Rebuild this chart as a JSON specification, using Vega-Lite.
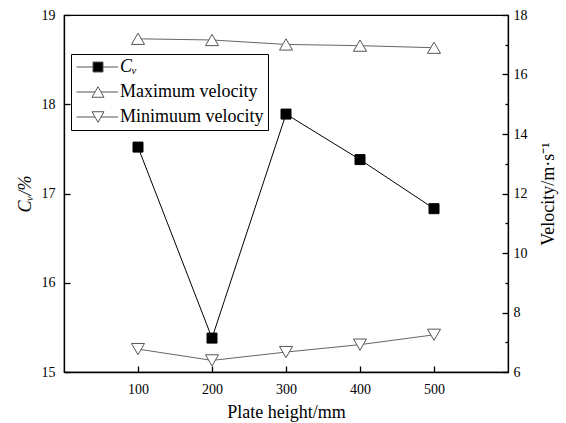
{
  "$schema": "https://vega.github.io/schema/vega-lite/v6.json",
  "width": 444,
  "height": 357,
  "autosize": {"type": "none"},
  "padding": {"left": 64, "top": 15, "right": 58, "bottom": 51},
  "background": "white",
  "config": {
    "view": {"stroke": "black", "strokeWidth": 1.2},
    "font": "Liberation Serif",
    "axis": {
      "labelFont": "Liberation Serif",
      "titleFont": "Liberation Serif",
      "labelFontSize": 14,
      "titleFontSize": 18,
      "titleFontWeight": "normal",
      "labelColor": "black",
      "titleColor": "black",
      "domainColor": "black",
      "domainWidth": 1.3,
      "ticks": true,
      "tickColor": "black",
      "tickWidth": 1.3,
      "grid": false,
      "labelFlush": false,
      "labelOverlap": false
    }
  },
  "data": {
    "values": [
      {"x": 100, "series": "Cv", "value": 17.52},
      {"x": 200, "series": "Cv", "value": 15.38},
      {"x": 300, "series": "Cv", "value": 17.89},
      {"x": 400, "series": "Cv", "value": 17.38},
      {"x": 500, "series": "Cv", "value": 16.83},
      {"x": 100, "series": "Maximum velocity", "value": 17.2},
      {"x": 200, "series": "Maximum velocity", "value": 17.16},
      {"x": 300, "series": "Maximum velocity", "value": 17.01},
      {"x": 400, "series": "Maximum velocity", "value": 16.97},
      {"x": 500, "series": "Maximum velocity", "value": 16.9},
      {"x": 100, "series": "Minimuum velocity", "value": 6.77},
      {"x": 200, "series": "Minimuum velocity", "value": 6.39},
      {"x": 300, "series": "Minimuum velocity", "value": 6.67},
      {"x": 400, "series": "Minimuum velocity", "value": 6.92},
      {"x": 500, "series": "Minimuum velocity", "value": 7.25}
    ]
  },
  "encoding": {
    "x": {
      "field": "x",
      "type": "quantitative",
      "scale": {"domain": [0, 600], "nice": false, "zero": false},
      "axis": {
        "title": "Plate height/mm",
        "values": [100, 200, 300, 400, 500],
        "format": "d",
        "tickSize": -6,
        "labelPadding": 16,
        "titlePadding": 7
      }
    }
  },
  "layer": [
    {
      "transform": [{"filter": "datum.series === 'Cv'"}],
      "encoding": {
        "y": {
          "field": "value",
          "type": "quantitative",
          "scale": {"domain": [15, 19], "nice": false, "zero": false},
          "axis": {
            "orient": "left",
            "title": "Cᵥ/%",
            "titleFontStyle": "italic",
            "values": [15, 15.5, 16, 16.5, 17, 17.5, 18, 18.5, 19],
            "format": "d",
            "labelExpr": "datum.value % 1 === 0 ? datum.label : ''",
            "tickSize": {"expr": "datum.value % 1 === 0 ? -6 : -3"},
            "labelPadding": 15,
            "titlePadding": 7
          }
        }
      },
      "layer": [
        {"mark": {"type": "line", "color": "black", "strokeWidth": 1}, "encoding": {}},
        {
          "mark": {"type": "point", "shape": "square", "size": 100, "stroke": "black", "strokeWidth": 1, "opacity": 1},
          "encoding": {
            "fill": {
              "field": "series",
              "type": "nominal",
              "scale": {"domain": ["Cv", "Maximum velocity", "Minimuum velocity"], "range": ["black", "white", "white"]},
              "legend": {
                "orient": "none",
                "legendX": 7,
                "legendY": 39,
                "title": null,
                "strokeColor": "black",
                "fillColor": "white",
                "padding": 4,
                "labelFont": "Liberation Serif",
                "labelFontSize": 18,
                "labelColor": "black",
                "symbolSize": 100,
                "rowPadding": 7,
                "labelOffset": 27,
                "symbolStrokeWidth": 1,
                "symbolOpacity": 1,
                "labelExpr": "datum.value === 'Cv' ? 'Cᵥ' : datum.label",
                "labelFontStyle": {"expr": "datum.value === 'Cv' ? 'italic' : 'normal'"},
                "symbolType": {"expr": "datum.value === 'Cv' ? 'M-1.5,0H1.8M3.8,0H6.8M1.8,-1H3.8V1H1.8Z' : datum.value === 'Maximum velocity' ? 'M-1.5,0H2.2M3.4,0H6.8M2.8,-1.05L4,1.05L1.6,1.05Z' : 'M-1.5,0H2.2M3.4,0H6.8M2.8,1.05L4,-1.05L1.6,-1.05Z'"},
                "symbolStrokeColor": {"expr": "datum.value === 'Cv' ? 'black' : '#555'"}
              }
            }
          }
        }
      ]
    },
    {
      "transform": [{"filter": "datum.series !== 'Cv'"}],
      "encoding": {
        "y": {
          "field": "value",
          "type": "quantitative",
          "scale": {"domain": [6, 18], "nice": false, "zero": false},
          "axis": {
            "orient": "right",
            "title": "Velocity/m·s⁻¹",
            "titleAngle": 270,
            "values": [6, 7, 8, 9, 10, 11, 12, 13, 14, 15, 16, 17, 18],
            "format": "d",
            "labelExpr": "datum.value % 2 === 0 ? datum.label : ''",
            "tickSize": {"expr": "datum.value % 2 === 0 ? -6 : -3"},
            "labelPadding": 11,
            "titlePadding": 30
          }
        }
      },
      "layer": [
        {"mark": {"type": "line", "color": "#666", "strokeWidth": 1}, "encoding": {"detail": {"field": "series"}}},
        {
          "transform": [{"filter": "datum.series === 'Maximum velocity'"}],
          "mark": {"type": "point", "shape": "triangle-up", "size": 169, "stroke": "#555", "strokeWidth": 1, "opacity": 1},
          "encoding": {"fill": {"field": "series", "type": "nominal"}}
        },
        {
          "transform": [{"filter": "datum.series === 'Minimuum velocity'"}],
          "mark": {"type": "point", "shape": "triangle-down", "size": 169, "stroke": "#555", "strokeWidth": 1, "opacity": 1},
          "encoding": {"fill": {"field": "series", "type": "nominal"}}
        }
      ]
    }
  ],
  "resolve": {"scale": {"y": "independent"}}
}
